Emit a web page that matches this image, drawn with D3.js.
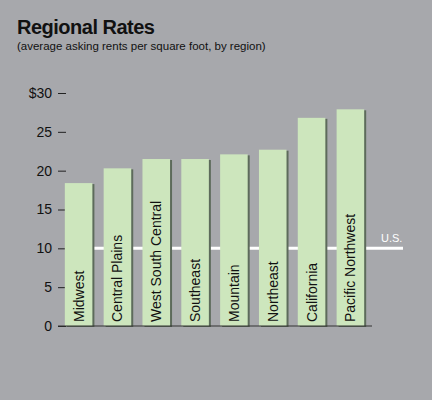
<!DOCTYPE html>
<html><head><meta charset="utf-8">
<script src="https://cdn.jsdelivr.net/npm/d3@7"></script>
<style>body{margin:0;background:#a7a8ac}</style>
</head><body>
<script>
var regions = ['Midwest', 'Central Plains', 'West South Central', 'Southeast', 'Mountain', 'Northeast', 'California', 'Pacific Northwest'];
var rents = [18.4, 20.3, 21.5, 21.5, 22.1, 22.7, 26.8, 27.9];
var usRate = 10;
var yTicks = [0, 5, 10, 15, 20, 25, 30];

var svg = d3.select('body').append('svg').attr('width', 432).attr('height', 400)
  .style('font-family', 'Liberation Sans, Arial, sans-serif');
svg.append('rect').attr('width', 432).attr('height', 400).attr('fill', '#a7a8ac');

svg.append('text').attr('x', 17).attr('y', 34).text('Regional Rates')
  .attr('font-size', 20).attr('font-weight', 'bold').attr('fill', '#111').attr('letter-spacing', -0.5);
svg.append('text').attr('x', 17).attr('y', 50).text('(average asking rents per square foot, by region)')
  .attr('font-size', 11.5).attr('fill', '#111');

var y = d3.scaleLinear().domain([0, 30]).range([326, 93]);
var x = d3.scaleBand().domain(regions).range([59, 370]).paddingInner(0.29).paddingOuter(0.15);

// y axis ticks
var ax = svg.append('g').attr('transform', 'translate(66,0)')
  .call(d3.axisLeft(y).tickValues(yTicks).tickSize(8).tickPadding(6)
    .tickFormat(function(d) { return d === 30 ? '$30' : d }));
ax.select('.domain').remove();
ax.selectAll('line').attr('stroke', '#222');
ax.selectAll('text').attr('font-size', 14).attr('fill', '#111');

// U.S. line behind bars
svg.append('line').attr('x1', 66).attr('x2', 403).attr('y1', y(usRate)).attr('y2', y(usRate))
  .attr('stroke', '#fff').attr('stroke-width', 3);
svg.append('text').attr('x', 381).attr('y', y(usRate) - 6).text('U.S.')
  .attr('font-size', 11).attr('fill', '#fff');

var bars = svg.selectAll('g.bar').data(regions).enter().append('g').attr('class', 'bar');
bars.append('rect')
  .attr('x', function(d) { return x(d) + 2 }).attr('y', function(d, i) { return y(rents[i]) + 1 })
  .attr('width', x.bandwidth()).attr('height', function(d, i) { return y(0) - y(rents[i]) })
  .attr('fill', '#5d6b5b');
bars.append('rect')
  .attr('x', function(d) { return x(d) }).attr('y', function(d, i) { return y(rents[i]) })
  .attr('width', x.bandwidth()).attr('height', function(d, i) { return y(0) - y(rents[i]) })
  .attr('fill', '#cde6bd');
bars.append('text')
  .attr('transform', function(d) { return 'translate(' + (x(d) + x.bandwidth() / 2 + 5) + ',' + (y(0) - 4) + ') rotate(-90)' })
  .text(function(d) { return d })
  .style('font-family', '"Liberation Sans Narrow", "Liberation Sans", sans-serif')
  .attr('font-size', 14).attr('fill', '#111');

svg.append('line').attr('x1', 58).attr('x2', 372).attr('y1', y(0)).attr('y2', y(0))
  .attr('stroke', '#333').attr('stroke-width', 1);
</script>
</body></html>
